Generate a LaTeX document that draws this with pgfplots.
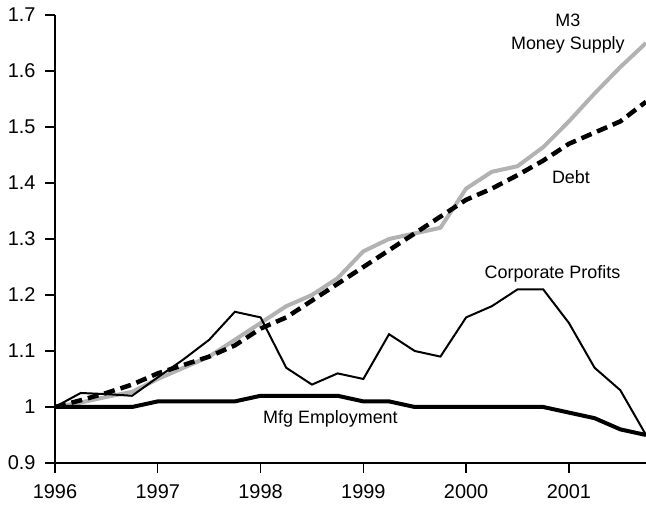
\documentclass[border=0pt]{standalone}
\usepackage{pgfplots}
\pgfplotsset{compat=1.18}
\usepackage{fontspec}
\setmainfont{Liberation Sans}
\begin{document}
\begin{tikzpicture}
\begin{axis}[
  name=ax,
  scale only axis,
  width=591bp, height=448bp,
  xmin=1996, xmax=2001.75,
  ymin=0.9, ymax=1.7,
  axis x line*=bottom,
  axis y line*=left,
  axis line style={-, line width=1.1bp},
  xtick={1996,1997,1998,1999,2000,2001},
  ytick={0.9,1,1.1,1.2,1.3,1.4,1.5,1.6,1.7},
  major tick style={draw=black, line width=1.3bp},
  major tick length=10bp,
  tick align=outside,
  /pgf/number format/assume math mode=true,
  /pgf/number format/1000 sep={},
  ticklabel style={font=\fontsize{20}{22}\selectfont},
  xticklabel style={yshift=-8bp},
  yticklabel style={/pgf/number format/fixed, xshift=-6bp},
  clip=false,
]
% M3 Money Supply
\addplot[color=black!30, line width=4bp, line join=round] coordinates {
(1996.00,1.000) (1996.25,1.008) (1996.50,1.018) (1996.75,1.027)
(1997.00,1.050) (1997.25,1.070) (1997.50,1.090) (1997.75,1.120)
(1998.00,1.150) (1998.25,1.180) (1998.50,1.200) (1998.75,1.230)
(1999.00,1.278) (1999.25,1.300) (1999.50,1.310) (1999.75,1.320)
(2000.00,1.390) (2000.25,1.420) (2000.50,1.430) (2000.75,1.464)
(2001.00,1.510) (2001.25,1.560) (2001.50,1.607) (2001.75,1.650)
};
% Debt
\addplot[color=black, line width=4.5bp, dash pattern=on 11bp off 6bp] coordinates {
(1996.00,1.000) (1996.25,1.012) (1996.50,1.025) (1996.75,1.040)
(1997.00,1.060) (1997.25,1.075) (1997.50,1.090) (1997.75,1.110)
(1998.00,1.140) (1998.25,1.160) (1998.50,1.190) (1998.75,1.220)
(1999.00,1.250) (1999.25,1.280) (1999.50,1.310) (1999.75,1.340)
(2000.00,1.370) (2000.25,1.390) (2000.50,1.414) (2000.75,1.440)
(2001.00,1.470) (2001.25,1.490) (2001.50,1.510) (2001.75,1.545)
};
% Corporate Profits
\addplot[color=black, line width=2bp, line join=miter] coordinates {
(1996.00,1.000) (1996.25,1.025) (1996.50,1.023) (1996.75,1.020)
(1997.00,1.053) (1997.25,1.085) (1997.50,1.120) (1997.75,1.170)
(1998.00,1.160) (1998.25,1.070) (1998.50,1.040) (1998.75,1.060)
(1999.00,1.050) (1999.25,1.130) (1999.50,1.100) (1999.75,1.090)
(2000.00,1.160) (2000.25,1.180) (2000.50,1.210) (2000.75,1.210)
(2001.00,1.150) (2001.25,1.070) (2001.50,1.030) (2001.75,0.950)
};
% Mfg Employment
\addplot[color=black, line width=4bp, line join=round] coordinates {
(1996.00,1.000) (1996.25,1.000) (1996.50,1.000) (1996.75,1.000)
(1997.00,1.010) (1997.25,1.010) (1997.50,1.010) (1997.75,1.010)
(1998.00,1.020) (1998.25,1.020) (1998.50,1.020) (1998.75,1.020)
(1999.00,1.010) (1999.25,1.010) (1999.50,1.000) (1999.75,1.000)
(2000.00,1.000) (2000.25,1.000) (2000.50,1.000) (2000.75,1.000)
(2001.00,0.990) (2001.25,0.980) (2001.50,0.960) (2001.75,0.950)
};
\node[align=center, font=\fontsize{18}{23}\selectfont] at (axis cs:2000.99,1.667) {M3\\Money Supply};
\node[font=\fontsize{18}{22}\selectfont] at (axis cs:2001.02,1.411) {Debt};
\node[font=\fontsize{18}{22}\selectfont] at (axis cs:2000.84,1.2375) {Corporate Profits};
\node[font=\fontsize{18}{22}\selectfont] at (axis cs:1998.68,0.979) {Mfg Employment};
\end{axis}
\pgfresetboundingbox
\path ([xshift=-55bp,yshift=-43bp]ax.south west) rectangle ([yshift=15bp]ax.north east);
\end{tikzpicture}
\end{document}
